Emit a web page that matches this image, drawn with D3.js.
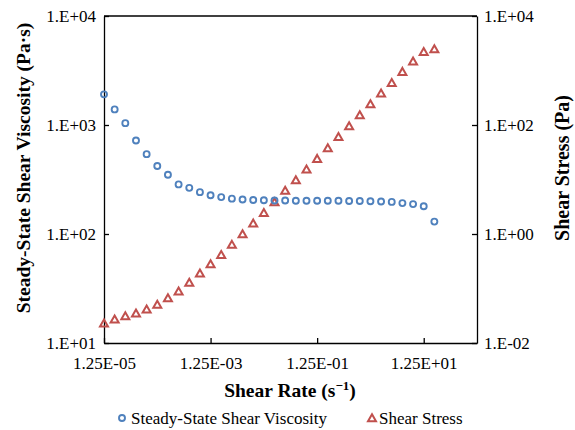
<!DOCTYPE html>
<html>
<head>
<meta charset="utf-8">
<script src="https://cdn.jsdelivr.net/npm/d3@7"></script>
</head>
<body style="margin:0; background:#fff">
<svg width="575" height="430"></svg>
<script>
// data
const shearRate = [1.25e-5, 1.98e-5, 3.14e-5, 4.98e-5, 7.89e-5,
                   1.25e-4, 1.98e-4, 3.14e-4, 4.98e-4, 7.89e-4,
                   1.25e-3, 1.98e-3, 3.14e-3, 4.98e-3, 7.89e-3,
                   1.25e-2, 1.98e-2, 3.14e-2, 4.98e-2, 7.89e-2,
                   1.25e-1, 1.98e-1, 3.14e-1, 4.98e-1, 7.89e-1,
                   1.25, 1.98, 3.14, 4.98, 7.89,
                   12.5, 19.8];
const viscosity = [1910, 1390, 1040, 720, 540, 420, 350, 285, 265, 242,
                   227, 218, 211, 207, 205, 204, 203, 203, 202, 202,
                   202, 202, 202, 201, 201, 200, 199, 197, 192, 188,
                   180, 130];
const stress = [0.0230, 0.0272, 0.0313, 0.0350, 0.0415, 0.0505, 0.0670, 0.0887, 0.128, 0.190,
                0.282, 0.417, 0.637, 1.0, 1.57, 2.46, 3.86, 6.24, 9.79, 15.4,
                24.1, 37.8, 61, 95.9, 152, 243, 382, 597, 951, 1476,
                2213, 2478];
const xTicks = [1.25e-5, 1.25e-3, 1.25e-1, 1.25e1];
const xTickLabels = ["1.25E-05", "1.25E-03", "1.25E-01", "1.25E+01"];
const yLeftTicks = [10, 100, 1000, 10000];
const yLeftLabels = ["1.E+01", "1.E+02", "1.E+03", "1.E+04"];
const yRightTicks = [0.01, 1, 100, 10000];
const yRightLabels = ["1.E-02", "1.E+00", "1.E+02", "1.E+04"];

const FONT = '"Liberation Serif", monospace';
const blue = "#4F81BD", red = "#C0504D";
const pLeft = 104, pRight = 477, pTop = 16, pBottom = 343;

var svg = d3.select("svg");

const x = d3.scaleLog().domain([1.25e-5, 1.25e2]).range([pLeft, pRight]);
const yL = d3.scaleLog().domain([10, 1e4]).range([pBottom, pTop]);
const yR = d3.scaleLog().domain([0.01, 1e4]).range([pBottom, pTop]);

// axes, ticks pointing inward
const xAxis = d3.axisBottom(x).tickValues(xTicks).tickSizeInner(-5).tickSizeOuter(0)
    .tickFormat((d, i) => xTickLabels[i]).tickPadding(14);
const lAxis = d3.axisLeft(yL).tickValues(yLeftTicks).tickSizeInner(-5).tickSizeOuter(0)
    .tickFormat((d, i) => yLeftLabels[i]).tickPadding(8);
const rAxis = d3.axisRight(yR).tickValues(yRightTicks).tickSizeInner(-5).tickSizeOuter(0)
    .tickFormat((d, i) => yRightLabels[i]).tickPadding(7);

function styleAxis(g) {
    g.attr("font-family", null).attr("font-size", null);
    g.select(".domain").attr("stroke", "#000").attr("stroke-width", 1.3);
    g.selectAll(".tick line").attr("stroke", "#000").attr("stroke-width", 1.3);
    g.selectAll(".tick text").style("font-family", FONT).style("font-size", "17px").attr("fill", "#000");
}

svg.append("line").attr("x1", pLeft).attr("x2", pRight).attr("y1", pTop).attr("y2", pTop)
    .attr("stroke", "#000").attr("stroke-width", 1.3);

svg.append("g").attr("transform", `translate(0,${pBottom})`).call(xAxis).call(styleAxis);
svg.append("g").attr("transform", `translate(${pLeft},0)`).call(lAxis).call(styleAxis);
svg.append("g").attr("transform", `translate(${pRight},0)`).call(rAxis).call(styleAxis);

// markers
const tri = "M0,-3.8L4,3.2L-4,3.2Z";

svg.append("g").selectAll("path")
    .data(stress)
    .enter()
    .append("path")
    .attr("d", tri)
    .attr("transform", (d, i) => `translate(${x(shearRate[i])},${yR(d)})`)
    .attr("fill", "none")
    .attr("stroke", red)
    .attr("stroke-width", 2);

svg.append("g").selectAll("circle")
    .data(viscosity)
    .enter()
    .append("circle")
    .attr("cx", (d, i) => x(shearRate[i]))
    .attr("cy", d => yL(d))
    .attr("r", 3)
    .attr("fill", "none")
    .attr("stroke", blue)
    .attr("stroke-width", 1.9);

// axis titles
const xt = svg.append("text").attr("x", 290).attr("y", 397).attr("text-anchor", "middle")
    .style("font-family", FONT).style("font-size", "19.5px").style("font-weight", "bold");
xt.append("tspan").text("Shear Rate (s");
xt.append("tspan").attr("dy", -7).style("font-size", "13px").text("\u22121");
xt.append("tspan").attr("dy", 7).text(")");

svg.append("text")
    .attr("transform", "translate(23,168) rotate(-90)")
    .attr("text-anchor", "middle").attr("dominant-baseline", "central")
    .style("font-family", FONT).style("font-size", "19.5px").style("font-weight", "bold")
    .text("Steady-State Shear Viscosity (Pa\u00b7s)");

svg.append("text")
    .attr("transform", "translate(562,168) rotate(-90)")
    .attr("text-anchor", "middle").attr("dominant-baseline", "central")
    .style("font-family", FONT).style("font-size", "20px").style("font-weight", "bold")
    .text("Shear Stress (Pa)");

// legend
const lg = svg.append("g");
lg.append("circle").attr("cx", 122).attr("cy", 418).attr("r", 3)
    .attr("fill", "none").attr("stroke", blue).attr("stroke-width", 1.9);
lg.append("text").attr("x", 131).attr("y", 418).attr("dominant-baseline", "central")
    .style("font-family", FONT).style("font-size", "17px").text("Steady-State Shear Viscosity");
lg.append("path").attr("d", tri).attr("transform", "translate(372,418)")
    .attr("fill", "none").attr("stroke", red).attr("stroke-width", 2);
lg.append("text").attr("x", 379).attr("y", 418).attr("dominant-baseline", "central")
    .style("font-family", FONT).style("font-size", "17px").text("Shear Stress");
</script>
</body>
</html>
